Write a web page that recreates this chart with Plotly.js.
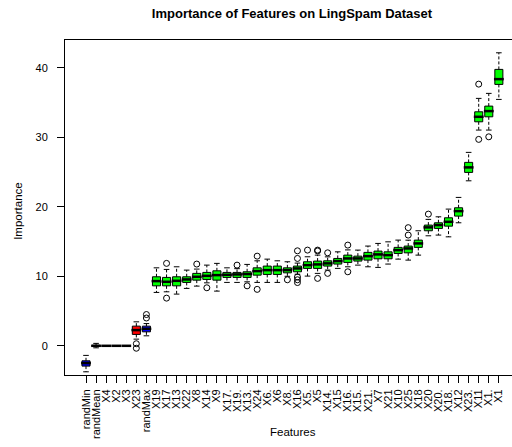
<!DOCTYPE html>
<html>
<head>
<meta charset="utf-8">
<script src="https://cdn.plot.ly/plotly-3.0.1.min.js"></script>
<style>
html,body{margin:0;padding:0;overflow:hidden;width:512px;height:447px;background:#fff;}
#chart{width:530px;height:447px;}
</style>
</head>
<body>
<div id="chart"></div>
<script>
// ---- data ----
const categories = ["randMin","randMean","X4","X2","X3","X23","randMax","X19","X17","X13","X22","X8","X14","X9","X17.","X19.","X13.","X24","X6.","X6","X8.","X16","X5.","X5","X14.","X15","X16.","X15.","X21.","X7","X21","X10","X25","X18","X20","X20.","X18.","X12","X23.","X11","X1.","X1"];
const decision = ["Shadow","Shadow","Rejected","Rejected","Rejected","Rejected","Shadow","Confirmed","Confirmed","Confirmed","Confirmed","Confirmed","Confirmed","Confirmed","Confirmed","Confirmed","Confirmed","Confirmed","Confirmed","Confirmed","Confirmed","Confirmed","Confirmed","Confirmed","Confirmed","Confirmed","Confirmed","Confirmed","Confirmed","Confirmed","Confirmed","Confirmed","Confirmed","Confirmed","Confirmed","Confirmed","Confirmed","Confirmed","Confirmed","Confirmed","Confirmed","Confirmed"];
const lowerWhisker = [-3.74,-0.29,0,0,0,0.96,1.44,7.68,7.77,7.44,8.26,8.59,9.06,7.87,9.12,9.12,9.21,9.12,9.12,9.12,10.0,10.3,10.03,10.42,10.9,11.14,11.37,11.61,11.37,11.28,11.76,12.47,12.33,13.05,15.83,15.93,15.68,17.7,23.74,31.04,31.04,35.45];
const q1 = [-2.92,-0.08,0,0,0,1.64,2.01,8.63,8.63,8.63,9.12,9.45,9.55,9.45,9.84,9.84,9.84,10.17,10.27,10.27,10.5,10.65,11.14,11.14,11.47,11.76,12.0,12.19,12.33,12.52,12.52,13.29,13.38,14.16,16.55,16.89,17.22,18.66,24.95,32.23,32.95,37.61];
const median = [-2.49,0.0,0,0,0,2.26,2.45,9.31,9.21,9.35,9.55,9.93,10.07,10.17,10.22,10.27,10.32,10.75,10.89,10.89,10.89,11.13,11.61,11.71,11.86,12.19,12.57,12.57,12.9,13.15,13.05,13.77,14.01,14.73,17.04,17.37,17.84,19.38,25.67,32.95,33.77,38.37];
const q3 = [-2.16,0.08,0,0,0,2.83,2.83,9.93,9.84,9.93,9.93,10.42,10.56,10.79,10.56,10.56,10.65,11.22,11.47,11.47,11.22,11.47,12.09,12.19,12.23,12.57,13.05,12.9,13.44,13.63,13.52,14.16,14.35,15.21,17.37,17.7,18.42,19.86,26.39,33.67,34.49,39.77];
const upperWhisker = [-1.38,0.35,0,0,0,3.45,3.2,11.22,10.99,11.37,10.89,11.04,11.61,11.86,11.22,11.1,11.71,12.23,12.47,12.23,12.09,11.9,12.81,13.05,12.8,13.52,13.8,13.77,14.35,14.73,14.96,15.21,15.2,16.55,18.19,18.56,19.67,21.35,27.83,35.6,36.32,42.16];
const outlierFeature = ["X23","X23","randMax","randMax","X17","X17","X8","X14","X19.","X13.","X24","X24","X8.","X16","X16","X16","X16","X16","X5.","X5","X5","X5","X14.","X14.","X16.","X16.","X25","X25","X20","X11","X11","X1."];
const outlierValue = [0.3,-0.35,4.0,4.5,11.86,6.86,11.76,8.35,11.61,8.63,12.9,8.12,9.5,13.67,12.57,9.9,9.5,9.1,13.77,13.77,13.65,9.7,13.38,10.42,14.49,10.65,17.0,15.93,18.95,37.65,29.7,30.07];
const yTickValues = [0,10,20,30,40];

// ---- styling ----
const groupColors = {Shadow:"#0000ff", Rejected:"#ff0000", Confirmed:"#00ff00"};
const FONT = "Liberation Sans, Arial, Helvetica, sans-serif";

const traces = [];

// dashed whiskers (R style), built from the data arrays
const wx = [], wy = [];
categories.forEach((c, i) => {
  wx.push(c, c, null, c, c, null);
  wy.push(q3[i], upperWhisker[i], null, q1[i], lowerWhisker[i], null);
});
traces.push({
  type: "scatter", mode: "lines", x: wx, y: wy,
  line: {color: "#000", width: 1, dash: "3px,2px"},
  showlegend: false, hoverinfo: "skip"
});
// whisker staples
traces.push({
  type: "scatter", mode: "markers",
  x: categories.concat(categories), y: upperWhisker.concat(lowerWhisker),
  marker: {symbol: "line-ew", size: 4, color: "#000", line: {color: "#000", width: 1}},
  showlegend: false, hoverinfo: "skip"
});

// boxes by decision group
["Shadow","Rejected","Confirmed"].forEach(g => {
  const idx = categories.map((c,i)=>i).filter(i => decision[i] === g);
  traces.push({
    type: "box",
    name: g,
    x: idx.map(i => categories[i]),
    q1: idx.map(i => q1[i]),
    median: idx.map(i => median[i]),
    q3: idx.map(i => q3[i]),
    lowerfence: idx.map(i => q1[i]),
    upperfence: idx.map(i => q3[i]),
    boxpoints: false,
    width: 0.8,
    whiskerwidth: 0,
    fillcolor: groupColors[g],
    line: {color: "#000000", width: 1},
    showlegend: false,
    hoverinfo: "skip"
  });
});
// thick median bars (R style)
traces.push({
  type: "scatter", mode: "markers",
  x: categories, y: median,
  marker: {symbol: "line-ew", size: 7, color: "#000", line: {color: "#000", width: 2.5}},
  showlegend: false, hoverinfo: "skip"
});
// outliers
traces.push({
  type: "scatter", mode: "markers",
  x: outlierFeature, y: outlierValue,
  marker: {symbol: "circle-open", size: 6, color: "#000", line: {color: "#000", width: 1}},
  showlegend: false, hoverinfo: "skip"
});

const layout = {
  width: 530, height: 447,
  margin: {l: 65, r: 10, t: 40, b: 72},
  paper_bgcolor: "#fff", plot_bgcolor: "#fff",
  font: {family: FONT, color: "#000", size: 11},
  boxmode: "overlay",
  title: {text: "<b>Importance of Features on LingSpam Dataset</b>", font: {family: FONT, size: 13, color: "#000"},
          x: 292/530, xref: "container", xanchor: "center", y: 1 - 13/447, yref: "container", yanchor: "middle"},
  xaxis: {
    type: "category",
    categoryorder: "array", categoryarray: categories,
    tickmode: "array", tickvals: categories, ticktext: categories,
    range: [-2.085, 43.1],
    tickangle: -90,
    ticks: "outside", ticklen: 7, tickwidth: 1, tickcolor: "#000",
    tickfont: {family: FONT, size: 11, color: "#000"},
    ticklabelstandoff: 2,
    showline: true, linecolor: "#000", linewidth: 1, mirror: true,
    showgrid: false, zeroline: false,
    automargin: false
  },
  yaxis: {
    range: [-4.2, 44.0],
    tickmode: "array", tickvals: yTickValues,
    ticks: "outside", ticklen: 7, tickwidth: 1, tickcolor: "#000",
    tickfont: {family: FONT, size: 11, color: "#000"},
    ticklabelstandoff: 7,
    showline: true, linecolor: "#000", linewidth: 1, mirror: true,
    showgrid: false, zeroline: false,
    automargin: false
  },
  annotations: [
    {text: "Features", xref: "paper", yref: "paper", x: 0.5, y: -0.170, xanchor: "center", yanchor: "middle",
     showarrow: false, font: {family: FONT, size: 11.5, color: "#000"}},
    {text: "Importance", xref: "paper", yref: "paper", x: -0.1033, y: 0.49, xanchor: "center", yanchor: "middle",
     textangle: -90, showarrow: false, font: {family: FONT, size: 11.5, color: "#000"}}
  ]
};

Plotly.newPlot("chart", traces, layout, {staticPlot: true, displayModeBar: false});
</script>
</body>
</html>
